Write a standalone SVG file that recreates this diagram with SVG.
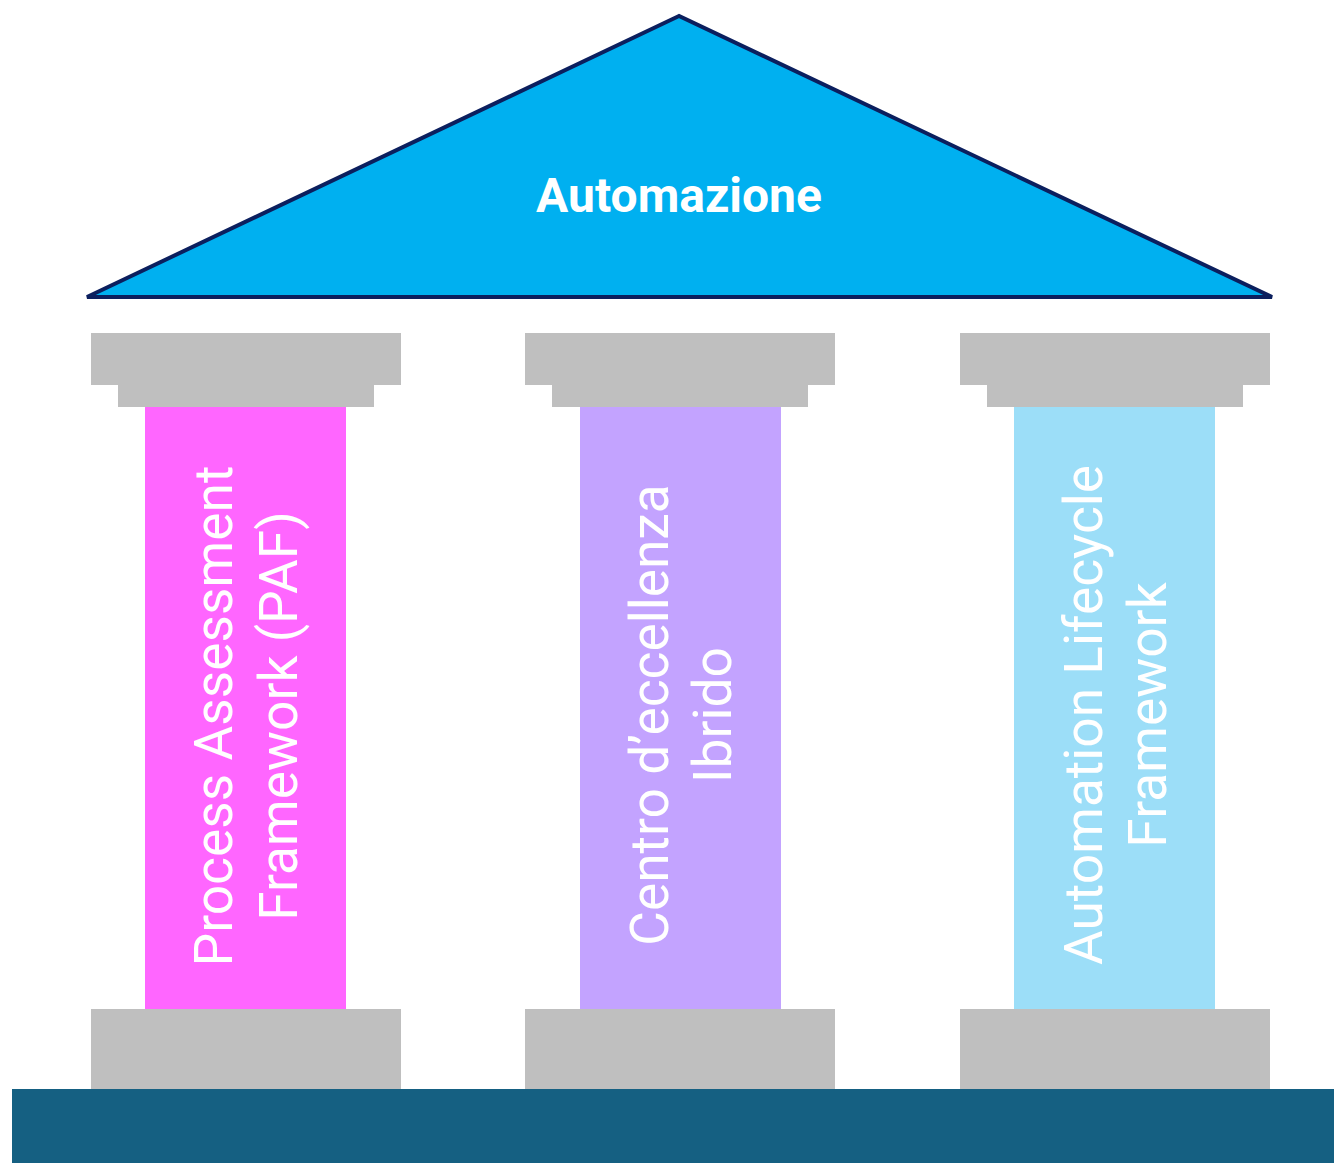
<svg xmlns="http://www.w3.org/2000/svg" width="1334" height="1163" viewBox="0 0 1334 1163">
<style>
.g{fill:#BFBFBF}
.t{font-family:Roboto,"Liberation Sans",sans-serif;font-size:53.3px;fill:#FFFFFF;text-anchor:middle}
.h{font-family:Roboto,"Liberation Sans",sans-serif;font-size:48px;font-weight:bold;fill:#FFFFFF;text-anchor:middle}
</style>
<rect width="1334" height="1163" fill="#FFFFFF"/>
<g id="floor"><rect x="12" y="1089" width="1322" height="74" fill="#156082"/></g>
<g id="roof">
<polygon points="679,16 87,297 1272,297" fill="#00B0F0" stroke="#0B1F5E" stroke-width="4" stroke-linejoin="miter"/>
<text class="h" x="679" y="212">Automazione</text>
</g>
<g id="pillar1">
<rect class="g" x="91" y="333" width="310" height="52"/>
<rect class="g" x="118" y="385" width="256" height="22"/>
<rect x="145" y="407" width="201" height="602" fill="#FF66FF"/>
<rect class="g" x="91" y="1009" width="310" height="80"/>
<text class="t" transform="translate(232,716) rotate(-90)">Process Assessment</text>
<text class="t" transform="translate(297,716) rotate(-90)">Framework (PAF)</text>
</g>
<g id="pillar2">
<rect class="g" x="525" y="333" width="310" height="52"/>
<rect class="g" x="552" y="385" width="256" height="22"/>
<rect x="580" y="407" width="201" height="602" fill="#C3A3FF"/>
<rect class="g" x="525" y="1009" width="310" height="80"/>
<text class="t" transform="translate(668,715) rotate(-90)">Centro d’eccellenza</text>
<text class="t" transform="translate(731,715) rotate(-90)">Ibrido</text>
</g>
<g id="pillar3">
<rect class="g" x="960" y="333" width="310" height="52"/>
<rect class="g" x="987" y="385" width="256" height="22"/>
<rect x="1014" y="407" width="201" height="602" fill="#9CDEF8"/>
<rect class="g" x="960" y="1009" width="310" height="80"/>
<text class="t" transform="translate(1102,715) rotate(-90)">Automation Lifecycle</text>
<text class="t" transform="translate(1166,715) rotate(-90)">Framework</text>
</g>
<g id="connectors"></g>
</svg>
